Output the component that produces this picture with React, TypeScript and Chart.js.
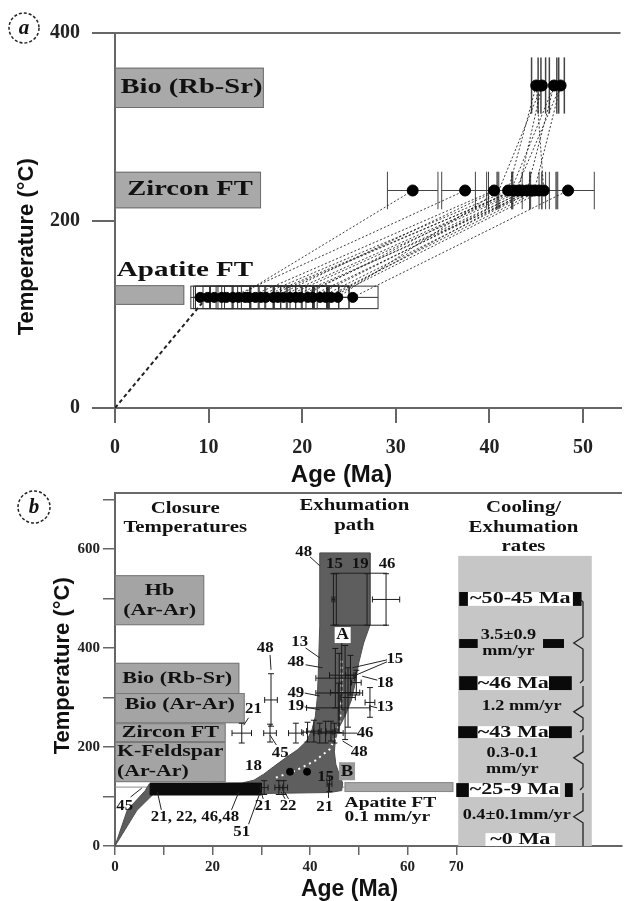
import React, { useEffect, useRef } from 'react';
import { Chart, registerables } from 'chart.js';
Chart.register(...registerables);

const SERIF = '"Liberation Serif", "Times New Roman", serif';
const SANS = '"Liberation Sans", Arial, sans-serif';

// ================= Panel (a) data =================
const aXTicks = [0, 10, 20, 30, 40, 50];
const aYTicks = [0, 200, 400];
const aApatiteTemp = 118;
const aApatiteTempErr = 12;
const aZirconTemp = 232;
const aZirconTempErr = 20;
const aBioTemp = 344;
const aBioTempErr = 30;
const aApatiteAges = [9.1, 9.9, 10.6, 11.4, 11.9, 12.6, 13.2, 13.9, 14.3, 15.0, 15.6, 16.1, 16.9, 17.4, 18.0, 18.7, 19.3, 19.8, 20.6, 21.1, 21.9, 22.5, 23.1, 23.8, 25.4];
const aApatiteErr = [1.0, 1.5, 2.0, 1.2, 2.5, 1.8, 2.2, 1.4, 2.6, 1.9, 2.1, 1.6, 2.4, 1.3, 2.0, 1.7, 2.3, 1.5, 2.2, 1.8, 2.0, 1.4, 1.9, 1.2, 2.7];
const aZirconAges = [31.8, 37.4, 40.5, 42.0, 42.6, 43.1, 43.5, 44.0, 44.4, 44.8, 45.3, 45.8, 48.4];
const aZirconErr = [2.7, 2.5, 2.0, 2.3, 1.8, 2.2, 2.5, 1.6, 2.0, 2.4, 1.8, 1.5, 2.8];
const aBioAges = [45.0, 45.6, 46.9, 47.6];
const aBioErr = [0.5, 0.4, 0.5, 0.4];
// cooling paths of individual samples: apatite -> zircon -> biotite ages
const aPathApatite = [13.0, 12.4, 14.2, 15.0, 16.1, 17.4, 18.0, 19.3, 20.6, 21.9, 22.5, 23.1, 23.8, 25.4, 19.8, 16.9, 21.1, 15.6, 18.7, 22.9];
const aPathZircon = [31.8, 37.4, 40.5, 42.0, 42.6, 43.1, 43.5, 44.0, 44.4, 44.8, 45.3, 45.8, 41.0, 48.4, 42.3, 40.8, 43.8, 42.8, 45.0, 44.2];
const aPathBio = [null, null, null, 45.0, null, 45.6, null, 46.9, null, 47.6, null, 45.0, 45.6, null, 46.9, null, null, 47.6, null, null];
const aOriginAges = [0, 9.3];
const aOriginTemps = [0, 112];
// closure temperature boxes
const aBoxNames = ['Bio (Rb-Sr)', 'Zircon FT', ''];
const aBoxEnds = [15.9, 15.6, 7.4];
const aBoxLow = [320, 213, 110];
const aBoxHigh = [363, 252, 131];
const aApatiteLabel = [0.2, 147];

// ================= Panel (b) data =================
const bXTicks = [0, 10, 20, 30, 40, 50, 60, 70];
const bXLabeled = [0, 20, 40, 60, 70];
const bYTicks = [0, 100, 200, 300, 400, 500, 600, 700];
const bYLabeled = [0, 200, 400, 600];
// exhumation path envelope (age, temperature)
const bPathAges = [0, 2.5, 6.2, 7.0, 26, 28.5, 30.5, 32.5, 35, 37.5, 39.3, 40.4, 41.1, 41.5, 41.7, 42, 42, 52.3, 52.3, 51, 50, 49.3, 48.5, 47.3, 46, 45.2, 45, 45.3, 46, 46.7, 46.5, 44, 30, 8, 4.5, 0];
const bPathTemps = [0, 72, 112, 125, 127, 133, 145, 160, 178, 195, 212, 235, 262, 300, 350, 446, 592, 592, 446, 410, 370, 330, 295, 265, 240, 215, 190, 165, 145, 127, 112, 108, 106, 106, 72, 0];
const bApatiteBandAges = [7.2, 30, 30, 7.2, 7.2];
const bApatiteBandTemps = [127, 127, 103, 103, 127];
const bTrendAges = [33, 37, 41, 44, 45.5, 46.2, 46.5, 46.5];
const bTrendTemps = [138, 152, 172, 195, 225, 260, 300, 380];
const bDotAges = [35.9, 39.4];
const bDotTemps = [150, 150];
// error crosses (age, temperature, ±age, ±temperature)
const bCrossAges = [44.8, 45.4, 51.7, 55.6, 45.2, 46.0, 45.8, 46.5, 47.2, 47.8, 48.3, 49.5, 52.3, 26.0, 31.8, 32.0, 37.1, 39.5, 40.8, 42.0, 43.2, 44.3, 45.0, 30.6, 33.6, 34.6, 44.0];
const bCrossTemps = [498, 498, 498, 498, 339, 309, 279, 345, 310, 300, 345, 330, 290, 228, 228, 295, 228, 230, 232, 228, 230, 232, 228, 118, 118, 118, 125];
const bCrossAgeErr = [0.3, 0, 0, 2.8, 4.0, 4.8, 6.5, 2.5, 3.0, 1.5, 1.0, 1.0, 1.0, 2.0, 1.3, 1.3, 1.5, 1.2, 1.5, 1.2, 1.5, 1.0, 1.8, 0.8, 0.8, 0.8, 0.5];
const bCrossTempErr = [52, 52, 52, 52, 60, 80, 50, 70, 95, 60, 40, 25, 30, 20, 18, 53, 20, 20, 22, 20, 22, 20, 20, 14, 14, 14, 15];
// sample labels
const bLabelTexts = ['48', '15', '19', '46', '13', '48', '15', '18', '49', '19', '13', '46', '48', '15', '21', '48', '21', '45', '18', '21, 22, 46,48', '51', '21', '22', '45'];
const bLabelAges = [38.7, 45.0, 50.3, 55.8, 37.9, 37.1, 57.4, 55.4, 37.1, 37.1, 55.4, 51.3, 50.1, 43.2, 43.0, 30.8, 28.4, 33.9, 28.4, 16.4, 26.0, 30.4, 35.5, 2.0];
const bLabelTemps = [594, 568, 568, 568, 412, 370, 376, 329, 309, 281, 279, 228, 190, 139, 77, 400, 275, 188, 160, 57, 28, 79, 79, 79];
const bLeaders = [
  [40.0, 584, 42.0, 566], [39.1, 400, 42.0, 380], [39.1, 366, 42.6, 360], [55.8, 376, 48.7, 360],
  [55.8, 372, 48.9, 343], [53.8, 335, 50.7, 343], [38.9, 309, 42.0, 303], [38.9, 281, 42.0, 275],
  [53.8, 279, 52.1, 283], [49.7, 228, 46.7, 228], [48.7, 200, 46.7, 212], [43.8, 97, 43.8, 127],
  [31.8, 386, 32.0, 356], [27.4, 259, 26.4, 244], [33.1, 204, 31.8, 224], [9.5, 73, 8.7, 109],
  [23.9, 73, 25.4, 109], [27.4, 44, 29.8, 109], [30.4, 95, 30.0, 109], [34.9, 95, 34.1, 109],
  [35.6, 95, 34.8, 109], [3.2, 99, 5.5, 117], [44.6, 551, 55.8, 551], [44.6, 446, 55.8, 446],
];
// closure temperature boxes
const bClosureNames = [['Hb', '(Ar-Ar)'], ['Bio (Rb-Sr)'], ['Bio (Ar-Ar)'], ['Zircon FT'], ['K-Feldspar', '(Ar-Ar)']];
const bClosureEnds = [18.3, 25.5, 26.6, 22.7, 22.7];
const bClosureLow = [446, 305, 248, 210, 129];
const bClosureHigh = [547, 370, 309, 248, 210];
const bClosureAlign = ['center', 'center', 'center', 'center', 'left'];
const bApatiteBar = [47.1, 69.4, 109, 129];
const bApatiteLevel = 119;
// cooling / exhumation rates column
const bRatePanel = [70.4, 97.8, 0, 586];
const bRateTexts = ['~50-45 Ma', '~46 Ma', '~43 Ma', '~25-9 Ma', '~0 Ma'];
const bRateTemps = [499, 329, 230, 113, 13];
const bRateBoxL = [72.4, 74.4, 74.4, 72.6, 76.0];
const bRateBoxR = [93.9, 89.0, 89.0, 91.3, 90.3];
const bRateBoxH = [14, 14, 12, 14, 13];
const bSquares = [
  [70.6, 72.4, 499, 14], [93.9, 95.7, 499, 14], [70.6, 74.4, 409, 9], [87.8, 92.1, 409, 9],
  [70.6, 74.4, 329, 14], [89.0, 93.7, 329, 14], [70.4, 74.4, 230, 12], [89.0, 93.7, 230, 12],
  [70.0, 72.6, 113, 14], [92.3, 93.9, 113, 14],
];
const bSpeedTexts = ['3.5±0.9', 'mm/yr', '1.2 mm/yr', '0.3-0.1', 'mm/yr', '0.4±0.1mm/yr'];
const bSpeedAges = [80.7, 80.7, 83.4, 81.5, 81.5, 82.4];
const bSpeedTemps = [426, 394, 281, 188, 154, 61];
const bBraceTemps = [499, 329, 230, 113, 0];
const bBraceTips = [410, 271, 178, 59];

// ================= helpers =================
function sc(chart: any) {
  const xs = chart.scales.x, ys = chart.scales.y;
  return { X: (v: number) => xs.getPixelForValue(v), Y: (v: number) => ys.getPixelForValue(v) };
}

function drawText(ctx: any, s: string, x: number, y: number, size: number, align = 'center', stretch = 1.3, color = '#111', style = 'bold', family = SERIF) {
  ctx.save();
  ctx.font = `${style} ${size}px ${family}`;
  const w = ctx.measureText(s).width * stretch;
  const x0 = align === 'center' ? x - w / 2 : align === 'right' ? x - w : x;
  ctx.translate(x0, y);
  ctx.scale(stretch, 1);
  ctx.textAlign = 'left';
  ctx.textBaseline = 'middle';
  ctx.fillStyle = color;
  ctx.fillText(s, 0, 0);
  ctx.restore();
}

function line(ctx: any, x1: number, y1: number, x2: number, y2: number) {
  ctx.beginPath();
  ctx.moveTo(x1, y1);
  ctx.lineTo(x2, y2);
  ctx.stroke();
}

function circled(ctx: any, letter: string, cx: number, cy: number, r: number) {
  ctx.save();
  ctx.strokeStyle = '#222';
  ctx.lineWidth = 1.5;
  ctx.setLineDash([3, 2]);
  ctx.beginPath();
  ctx.arc(cx, cy, r, 0, Math.PI * 2);
  ctx.stroke();
  ctx.setLineDash([]);
  ctx.font = `italic bold 21px ${SERIF}`;
  ctx.fillStyle = '#111';
  ctx.textAlign = 'center';
  ctx.textBaseline = 'middle';
  ctx.fillText(letter, cx, cy + 1);
  ctx.restore();
}

function yTitle(ctx: any, s: string, x: number, y: number, size: number) {
  ctx.save();
  ctx.translate(x, y);
  ctx.rotate(-Math.PI / 2);
  ctx.font = `bold ${size}px ${SANS}`;
  ctx.fillStyle = '#111';
  ctx.textAlign = 'center';
  ctx.textBaseline = 'middle';
  ctx.fillText(s, 0, 0);
  ctx.restore();
}

function xTitle(ctx: any, s: string, x: number, y: number, size: number) {
  ctx.save();
  ctx.font = `bold ${size}px ${SANS}`;
  ctx.fillStyle = '#111';
  ctx.textAlign = 'center';
  ctx.textBaseline = 'middle';
  ctx.fillText(s, x, y);
  ctx.restore();
}

// ================= Panel (a) =================
const panelAPlugin = {
  id: 'panelA',
  beforeDatasetsDraw(chart: any) {
    const ctx = chart.ctx;
    const { X, Y } = sc(chart);
    ctx.save();
    aBoxNames.forEach((name, i) => {
      const x0 = X(0), x1 = X(aBoxEnds[i]), y0 = Y(aBoxHigh[i]), y1 = Y(aBoxLow[i]);
      ctx.fillStyle = '#a9a9a9';
      ctx.fillRect(x0, y0, x1 - x0, y1 - y0);
      ctx.strokeStyle = '#6e6e6e';
      ctx.lineWidth = 1;
      ctx.strokeRect(x0 + 0.5, y0 + 0.5, x1 - x0 - 1, y1 - y0 - 1);
      if (name) drawText(ctx, name, (x0 + x1) / 2 + 2, (y0 + y1) / 2, 21, 'center', 1.36);
    });
    drawText(ctx, 'Apatite FT', X(aApatiteLabel[0]), Y(aApatiteLabel[1]), 22, 'left', 1.32);

    // apatite error boxes
    ctx.strokeStyle = '#333';
    ctx.lineWidth = 1;
    aApatiteAges.forEach((a, i) => {
      const e = aApatiteErr[i];
      const x0 = X(a - e), x1 = X(a + e);
      const y0 = Y(aApatiteTemp + aApatiteTempErr), y1 = Y(aApatiteTemp - aApatiteTempErr);
      ctx.strokeRect(x0, y0, x1 - x0, y1 - y0);
      line(ctx, x0, Y(aApatiteTemp), x1, Y(aApatiteTemp));
    });
    // zircon error bars
    ctx.strokeStyle = '#444';
    aZirconAges.forEach((a, i) => {
      const e = aZirconErr[i];
      const y = Y(aZirconTemp);
      line(ctx, X(a - e), y, X(a + e), y);
      line(ctx, X(a - e), Y(aZirconTemp + aZirconTempErr), X(a - e), Y(aZirconTemp - aZirconTempErr));
      line(ctx, X(a + e), Y(aZirconTemp + aZirconTempErr), X(a + e), Y(aZirconTemp - aZirconTempErr));
    });
    // biotite error bars
    ctx.lineWidth = 1.5;
    aBioAges.forEach((a, i) => {
      const e = aBioErr[i];
      const y = Y(aBioTemp);
      line(ctx, X(a - e), y, X(a + e), y);
      line(ctx, X(a - e), Y(aBioTemp + aBioTempErr), X(a - e), Y(aBioTemp - aBioTempErr));
      line(ctx, X(a + e), Y(aBioTemp + aBioTempErr), X(a + e), Y(aBioTemp - aBioTempErr));
    });
    ctx.restore();
  },
  afterDraw(chart: any) {
    const ctx = chart.ctx;
    const ca = chart.chartArea;
    ctx.save();
    ctx.strokeStyle = '#6a6a6a';
    ctx.lineWidth = 2;
    line(ctx, ca.left, ca.top, ca.right, ca.top);
    ctx.restore();
    circled(ctx, 'a', ca.left - 91, ca.top - 5, 15);
    const { X, Y } = sc(chart);
    yTitle(ctx, 'Temperature (°C)', ca.left - 88, Y(172), 22);
    xTitle(ctx, 'Age (Ma)', X(24.2), ca.bottom + 67, 24);
  },
};

function configA(): any {
  const datasets: any[] = [];
  datasets.push({
    data: aBioAges.map((a) => ({ x: a, y: aBioTemp })),
    pointRadius: 5.5, pointBackgroundColor: '#000', pointBorderColor: '#000', order: 0,
  });
  datasets.push({
    data: aZirconAges.map((a) => ({ x: a, y: aZirconTemp })),
    pointRadius: 5.5, pointBackgroundColor: '#000', pointBorderColor: '#000', order: 0,
  });
  datasets.push({
    data: aApatiteAges.map((a) => ({ x: a, y: aApatiteTemp })),
    pointRadius: 5, pointBackgroundColor: '#000', pointBorderColor: '#000', order: 0,
  });
  datasets.push({
    data: aOriginAges.map((a, i) => ({ x: a, y: aOriginTemps[i] })),
    showLine: true, borderColor: '#222', borderWidth: 2, borderDash: [4, 3], pointRadius: 0, order: 1,
  });
  aPathApatite.forEach((a, i) => {
    const pts: any[] = [{ x: a, y: aApatiteTemp }, { x: aPathZircon[i], y: aZirconTemp }];
    const b = aPathBio[i];
    if (b !== null) pts.push({ x: b, y: aBioTemp });
    datasets.push({
      data: pts, showLine: true, borderColor: 'rgba(25,25,25,0.85)', borderWidth: 1,
      borderDash: [2, 2], pointRadius: 0, order: 2,
    });
  });
  const tickFont = { family: SERIF, size: 20, weight: 'bold' };
  return {
    type: 'scatter',
    data: { datasets },
    options: {
      animation: false,
      responsive: false,
      events: [],
      layout: { padding: { top: 33, right: 1, bottom: 32, left: 0 } },
      plugins: { legend: { display: false }, tooltip: { enabled: false } },
      scales: {
        x: {
          type: 'linear', min: 0, max: 54,
          afterBuildTicks: (s: any) => { s.ticks = aXTicks.map((v) => ({ value: v })); },
          afterFit: (s: any) => { s.height = 50; },
          ticks: { font: tickFont, color: '#222', padding: 13, maxRotation: 0, autoSkip: false },
          grid: { drawOnChartArea: false, drawTicks: true, tickLength: 15, color: '#666', lineWidth: 2 },
          border: { display: true, color: '#666', width: 2 },
        },
        y: {
          type: 'linear', min: 0, max: 400,
          afterBuildTicks: (s: any) => { s.ticks = aYTicks.map((v) => ({ value: v })); },
          afterFit: (s: any) => { s.width = 115; },
          ticks: { font: tickFont, color: '#222', padding: 12, autoSkip: false },
          grid: { drawOnChartArea: false, drawTicks: true, tickLength: 23, color: '#666', lineWidth: 2 },
          border: { display: true, color: '#666', width: 2 },
        },
      },
    },
    plugins: [panelAPlugin],
  };
}

// ================= Panel (b) =================
const panelBPlugin = {
  id: 'panelB',
  beforeDatasetsDraw(chart: any) {
    const ctx = chart.ctx;
    const { X, Y } = sc(chart);
    ctx.save();
    // rates column background
    ctx.fillStyle = '#c6c6c6';
    ctx.fillRect(X(bRatePanel[0]), Y(bRatePanel[3]), X(bRatePanel[1]) - X(bRatePanel[0]), Y(bRatePanel[2]) - Y(bRatePanel[3]));
    // closure temperature boxes
    bClosureNames.forEach((lines, i) => {
      const x0 = X(0), x1 = X(bClosureEnds[i]), y0 = Y(bClosureHigh[i]), y1 = Y(bClosureLow[i]);
      ctx.fillStyle = '#a4a4a4';
      ctx.fillRect(x0, y0, x1 - x0, y1 - y0);
      ctx.strokeStyle = '#7a7a7a';
      ctx.lineWidth = 1;
      ctx.strokeRect(x0 + 0.5, y0 + 0.5, x1 - x0 - 1, y1 - y0 - 1);
    });
    bClosureNames.forEach((lines, i) => {
      const x0 = X(0), x1 = X(bClosureEnds[i]), y0 = Y(bClosureHigh[i]), y1 = Y(bClosureLow[i]);
      const cy = (y0 + y1) / 2;
      const n = lines.length;
      lines.forEach((s, k) => {
        const yy = cy + (k - (n - 1) / 2) * 20 - (i === 2 ? 4 : 0);
        if (bClosureAlign[i] === 'left') drawText(ctx, s, x0 + 2, yy, 17, 'left', 1.28);
        else drawText(ctx, s, (x0 + x1) / 2, yy, 17, 'center', 1.3);
      });
    });
    // apatite FT level line and bar
    ctx.strokeStyle = '#8a8a8a';
    ctx.lineWidth = 1;
    line(ctx, X(0), Y(bApatiteLevel), X(bApatiteBar[0]), Y(bApatiteLevel));
    ctx.fillStyle = '#a8a8a8';
    const ax0 = X(bApatiteBar[0]), ax1 = X(bApatiteBar[1]), ay0 = Y(bApatiteBar[3]), ay1 = Y(bApatiteBar[2]);
    ctx.fillRect(ax0, ay0, ax1 - ax0, ay1 - ay0);
    ctx.strokeStyle = '#888';
    ctx.strokeRect(ax0 + 0.5, ay0 + 0.5, ax1 - ax0 - 1, ay1 - ay0 - 1);
    ctx.restore();
  },
  afterDatasetsDraw(chart: any) {
    const ctx = chart.ctx;
    const { X, Y } = sc(chart);
    ctx.save();
    // error crosses
    ctx.strokeStyle = '#1a1a1a';
    ctx.lineWidth = 1;
    bCrossAges.forEach((a, i) => {
      const t = bCrossTemps[i], ea = bCrossAgeErr[i], et = bCrossTempErr[i];
      const x = X(a), y = Y(t);
      if (ea > 0) {
        line(ctx, X(a - ea), y, X(a + ea), y);
        line(ctx, X(a - ea), y - 3, X(a - ea), y + 3);
        line(ctx, X(a + ea), y - 3, X(a + ea), y + 3);
      }
      if (et > 0) {
        line(ctx, x, Y(t + et), x, Y(t - et));
        line(ctx, x - 3, Y(t + et), x + 3, Y(t + et));
        line(ctx, x - 3, Y(t - et), x + 3, Y(t - et));
      }
    });
    // leaders
    ctx.strokeStyle = '#222';
    bLeaders.forEach((l) => line(ctx, X(l[0]), Y(l[1]), X(l[2]), Y(l[3])));
    // sample labels
    bLabelTexts.forEach((s, i) => drawText(ctx, s, X(bLabelAges[i]), Y(bLabelTemps[i]), 14, 'center', 1.2));
    // A and B markers
    ctx.fillStyle = '#fff';
    ctx.fillRect(X(46.7) - 8, Y(426) - 8, 16, 16);
    drawText(ctx, 'A', X(46.7), Y(426), 16, 'center', 1.1);
    ctx.fillStyle = '#9a9a9a';
    ctx.fillRect(X(47.6) - 8, Y(151) - 9, 16, 18);
    drawText(ctx, 'B', X(47.6), Y(151), 17, 'center', 1.1);
    // apatite FT label
    drawText(ctx, 'Apatite FT', X(47.1), Y(87), 15, 'left', 1.3);
    drawText(ctx, '0.1 mm/yr', X(47.1), Y(59), 15, 'left', 1.3);
    // headers
    drawText(ctx, 'Closure', X(14.4), Y(681), 16, 'center', 1.3);
    drawText(ctx, 'Temperatures', X(14.4), Y(642), 16, 'center', 1.3);
    drawText(ctx, 'Exhumation', X(49.1), Y(687), 16, 'center', 1.3);
    drawText(ctx, 'path', X(49.1), Y(646), 16, 'center', 1.3);
    drawText(ctx, 'Cooling/', X(83.8), Y(683), 16, 'center', 1.3);
    drawText(ctx, 'Exhumation', X(83.8), Y(642), 16, 'center', 1.3);
    drawText(ctx, 'rates', X(83.8), Y(604), 16, 'center', 1.3);
    // rates column
    ctx.fillStyle = '#0a0a0a';
    bSquares.forEach((q) => {
      ctx.fillRect(X(q[0]), Y(q[2] + q[3]), X(q[1]) - X(q[0]), Y(q[2] - q[3]) - Y(q[2] + q[3]));
    });
    bRateTexts.forEach((s, i) => {
      const x0 = X(bRateBoxL[i]), x1 = X(bRateBoxR[i]);
      const y0 = Y(bRateTemps[i] + bRateBoxH[i]), y1 = Y(bRateTemps[i] - bRateBoxH[i]);
      ctx.fillStyle = '#fff';
      ctx.fillRect(x0, y0, x1 - x0, y1 - y0);
      drawText(ctx, s, (x0 + x1) / 2, (y0 + y1) / 2, 17, 'center', 1.3);
    });
    bSpeedTexts.forEach((s, i) => drawText(ctx, s, X(bSpeedAges[i]), Y(bSpeedTemps[i]), 14, 'center', 1.3));
    // brace
    ctx.strokeStyle = '#222';
    ctx.lineWidth = 1.3;
    const bx = X(96.0), tx = X(94.1);
    ctx.beginPath();
    ctx.moveTo(bx - 3, Y(bBraceTemps[0]));
    ctx.lineTo(bx, Y(bBraceTemps[0]) + 3);
    bBraceTips.forEach((tip, k) => {
      const ty = Y(tip);
      ctx.lineTo(bx, ty - 6);
      ctx.lineTo(tx, ty);
      ctx.lineTo(bx, ty + 6);
      const nb = Y(bBraceTemps[k + 1]);
      if (k < bBraceTips.length - 1) {
        ctx.lineTo(bx, nb - 3);
        ctx.lineTo(bx - 3, nb);
        ctx.moveTo(bx, nb + 3);
      } else {
        ctx.lineTo(bx, nb);
      }
    });
    ctx.stroke();
    ctx.restore();
  },
  afterDraw(chart: any) {
    const ctx = chart.ctx;
    const ca = chart.chartArea;
    const { X, Y } = sc(chart);
    ctx.save();
    ctx.strokeStyle = '#6a6a6a';
    ctx.lineWidth = 2;
    line(ctx, ca.left, ca.top, ca.right, ca.top);
    ctx.restore();
    circled(ctx, 'b', ca.left - 81, ca.top + 14, 16);
    yTitle(ctx, 'Temperature (°C)', ca.left - 52, Y(364), 22);
    xTitle(ctx, 'Age (Ma)', X(48.1), ca.bottom + 44, 23);
  },
};

function configB(): any {
  const datasets: any[] = [
    {
      data: bPathAges.map((a, i) => ({ x: a, y: bPathTemps[i] })),
      showLine: true, fill: 'shape', backgroundColor: '#5e5e5e', borderColor: '#4e4e4e', borderWidth: 1,
      pointRadius: 0, order: 10,
    },
    {
      data: bApatiteBandAges.map((a, i) => ({ x: a, y: bApatiteBandTemps[i] })),
      showLine: true, fill: 'shape', backgroundColor: '#0c0c0c', borderColor: '#0c0c0c', borderWidth: 1,
      pointRadius: 0, order: 9,
    },
    {
      data: bTrendAges.map((a, i) => ({ x: a, y: bTrendTemps[i] })),
      showLine: true, borderColor: '#ffffff', borderWidth: 2, borderDash: [2, 4], pointRadius: 0, order: 5,
    },
    {
      data: bDotAges.map((a, i) => ({ x: a, y: bDotTemps[i] })),
      pointRadius: 3.5, pointBackgroundColor: '#000', pointBorderColor: '#000', order: 4,
    },
  ];
  const tickFont = { family: SERIF, size: 15, weight: 'bold' };
  return {
    type: 'scatter',
    data: { datasets },
    options: {
      animation: false,
      responsive: false,
      events: [],
      layout: { padding: { top: 13, right: 0, bottom: 25, left: 0 } },
      plugins: { legend: { display: false }, tooltip: { enabled: false } },
      scales: {
        x: {
          type: 'linear', min: 0, max: 104,
          afterBuildTicks: (s: any) => { s.ticks = bXTicks.map((v) => ({ value: v })); },
          afterFit: (s: any) => { s.height = 30; },
          ticks: {
            font: tickFont, color: '#222', padding: 3, maxRotation: 0, autoSkip: false,
            callback: (v: any) => (bXLabeled.includes(v) ? String(v) : ''),
          },
          grid: { drawOnChartArea: false, drawTicks: true, tickLength: 9, color: '#666', lineWidth: 1.5 },
          border: { display: true, color: '#666', width: 2 },
        },
        y: {
          type: 'linear', min: 0, max: 713,
          afterBuildTicks: (s: any) => { s.ticks = bYTicks.map((v) => ({ value: v })); },
          afterFit: (s: any) => { s.width = 115; },
          ticks: {
            font: tickFont, color: '#222', padding: 3, autoSkip: false,
            callback: (v: any) => (bYLabeled.includes(v) ? String(v) : ''),
          },
          grid: { drawOnChartArea: false, drawTicks: true, tickLength: 12, color: '#666', lineWidth: 1.5 },
          border: { display: true, color: '#666', width: 2 },
        },
      },
    },
    plugins: [panelBPlugin],
  };
}

export default function App() {
  const refA = useRef<HTMLCanvasElement>(null);
  const refB = useRef<HTMLCanvasElement>(null);
  useEffect(() => {
    const ca = new Chart(refA.current as HTMLCanvasElement, configA());
    const cb = new Chart(refB.current as HTMLCanvasElement, configB());
    return () => {
      ca.destroy();
      cb.destroy();
    };
  }, []);
  return (
    <div style={{ position: 'absolute', left: 0, top: 0, width: 627, height: 901, background: '#fff', overflow: 'hidden' }}>
      <canvas ref={refA} width={627} height={490} style={{ position: 'absolute', left: 0, top: 0 }} />
      <canvas ref={refB} width={627} height={421} style={{ position: 'absolute', left: 0, top: 480 }} />
    </div>
  );
}
